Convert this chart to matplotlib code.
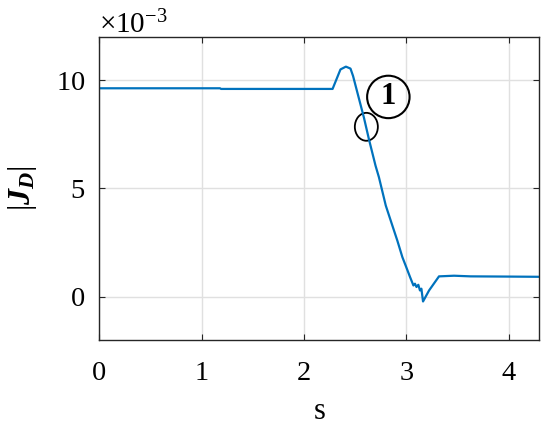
import numpy as np
import matplotlib
matplotlib.use("Agg")
import matplotlib.pyplot as plt
from matplotlib.patches import Ellipse
from matplotlib.ticker import ScalarFormatter

# time (s) and |J_D| (read in units of 1e-3)
t = [0.0, 1.18, 1.19, 2.28, 2.357, 2.41, 2.455, 2.48, 2.586, 2.635, 2.70, 2.733,
     2.80, 2.864, 2.913, 2.962, 2.994, 3.037, 3.07, 3.085, 3.10, 3.118, 3.134,
     3.148, 3.164, 3.223, 3.32, 3.467, 3.63, 4.0, 4.3]
jd = [9.63, 9.63, 9.60, 9.60, 10.50, 10.63, 10.54, 10.20, 8.28, 7.28, 6.05, 5.52,
      4.21, 3.29, 2.59, 1.83, 1.44, 0.91, 0.52, 0.60, 0.45, 0.55, 0.29,
      0.37, -0.22, 0.29, 0.94, 0.97, 0.94, 0.93, 0.92]
jd = np.array(jd) * 1e-3

plt.rcParams['font.family'] = 'Liberation Serif'
plt.rcParams['mathtext.fontset'] = 'custom'
plt.rcParams['mathtext.rm'] = 'Liberation Serif'
plt.rcParams['mathtext.it'] = 'Liberation Serif:italic'
plt.rcParams['mathtext.bf'] = 'Liberation Serif:bold:italic'

fig = plt.figure(figsize=(5.5, 4.3), dpi=100)
ax = fig.add_axes([0.1805, 0.2093, 0.80, 0.7047])

ax.plot(t, jd, color='#0072BD', lw=1.6)

# annotation: ellipse on the curve and circled label
ax.add_patch(Ellipse((2.61, 7.85e-3), 0.225, 1.29e-3, fill=False, ec='black', lw=1.3))
ax.text(2.825, 9.23e-3, '1', fontsize=22, fontweight='bold', ha='center', va='center',
        bbox=dict(boxstyle='circle,pad=0.22', fc='none', ec='black', lw=1.5))

ax.set_xlim(0, 4.3)
ax.set_ylim(-2e-3, 12e-3)
ax.set_xticks([0, 1, 2, 3, 4])
ax.set_yticks([0, 5e-3, 10e-3])
fmt = ScalarFormatter(useMathText=True)
fmt.set_powerlimits((-3, -3))
ax.yaxis.set_major_formatter(fmt)
ax.yaxis.get_offset_text().set_fontsize(21)

ax.grid(True, color='#e0e0e0', lw=1)
ax.set_axisbelow(True)
ax.tick_params(direction='in', top=True, right=True, labelsize=20.5, length=4,
               color='#262626', width=0.8)
ax.tick_params(axis='x', pad=15)
ax.tick_params(axis='y', pad=10)
for s in ax.spines.values():
    s.set_color('#262626')
    s.set_linewidth(1.0)

ax.set_xlabel('s', fontsize=22, labelpad=8)
ax.set_ylabel(r'$|\mathbf{J_D}|$', fontsize=23, labelpad=12)

fig.savefig('out.png', dpi=100)
